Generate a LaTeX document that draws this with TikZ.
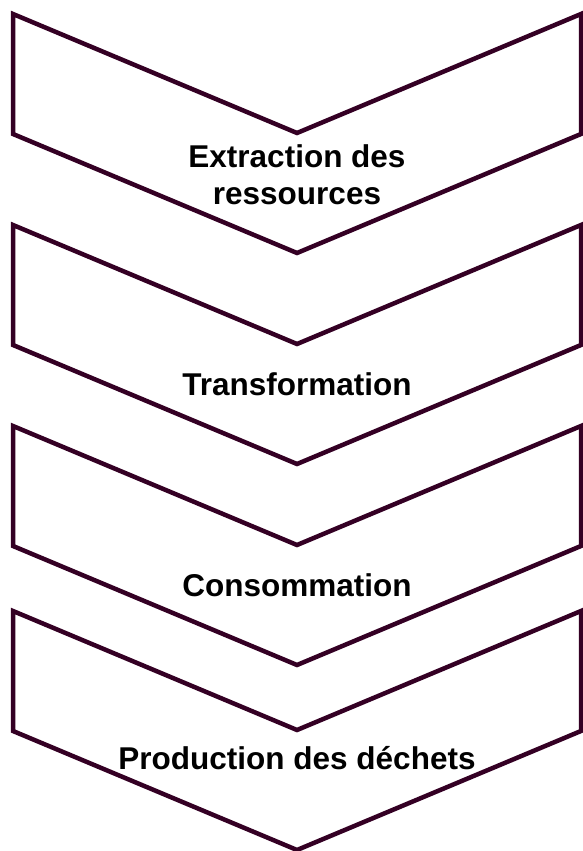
\documentclass[tikz,border=0pt]{standalone}
\usepackage{fontspec}
\setmainfont{Liberation Sans}
\definecolor{chevronline}{RGB}{52,0,36}
\begin{document}
\begin{tikzpicture}[x=1pt,y=-1pt,
  chev/.style={draw=chevronline,line width=4.5pt,line join=miter,fill=white},
  label/.style={anchor=base,inner sep=0pt,text=black,
    font=\fontsize{31.5}{37}\selectfont\bfseries}]
  \useasboundingbox (0,0) rectangle (583,851);
  % one downward chevron: top edge y, side height 120, V depth 119
  \newcommand\chevronat[1]{%
    \draw[chev] (13,#1) -- (297,#1+119) -- (581,#1) -- (581,#1+120)
      -- (297,#1+239) -- (13,#1+120) -- cycle;}
  \chevronat{14}
  \chevronat{225}
  \chevronat{426}
  \chevronat{611}
  \node[label] (extr1) at (297,167) {Extraction des};
  \node[label] (extr2) at (297,204) {ressources};
  \node[label] (transf) at (297,395) {Transformation};
  \node[label] (conso) at (297,596) {Consommation};
  \node[label] (prod) at (297,769) {Production des déchets};
\end{tikzpicture}
\end{document}
